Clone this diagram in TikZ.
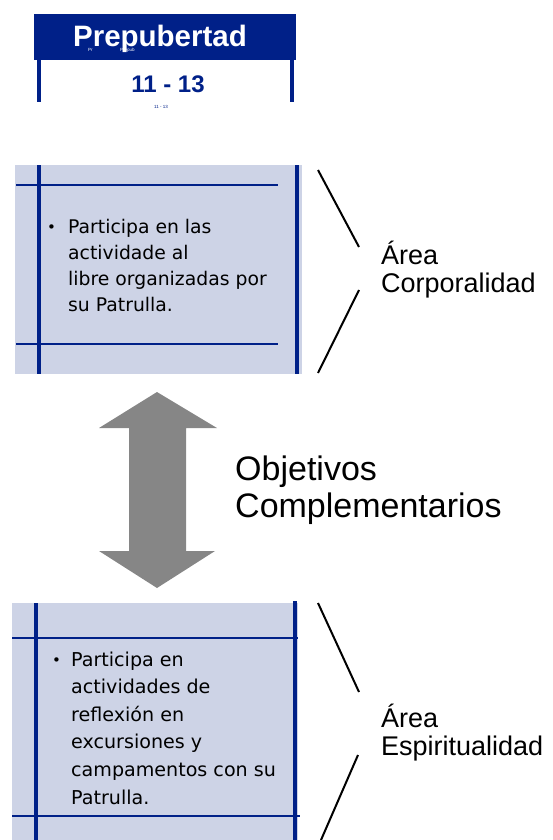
\documentclass[tikz,border=0pt]{standalone}
\usepackage{fontspec}
\setmainfont{DejaVu Sans}
\newfontfamily\arialfont{Liberation Sans}
\usetikzlibrary{positioning}
\definecolor{navy}{RGB}{0,32,136}
\definecolor{lavender}{RGB}{205,211,230}
\definecolor{arrowgray}{RGB}{134,134,134}

\begin{document}
\begin{tikzpicture}[x=1pt,y=-1pt,
  bar/.style={navy,line width=4pt},
  rule/.style={navy,line width=2pt},
  brace/.style={black,line width=2pt},
  tiny/.style={anchor=base west,inner sep=0pt,font=\arialfont\fontsize{4.5}{5}\selectfont},
  item/.style={anchor=base west,align=left,inner sep=0pt},
  area/.style={anchor=base west,align=left,inner sep=0pt,font=\arialfont\fontsize{27}{28}\selectfont}]
 \useasboundingbox (0,0) rectangle (552,840);
 % header
 \fill[navy] (34,14) rectangle (296,60);
 \draw[bar] (39,60) -- (39,102);
 \draw[bar] (292,60) -- (292,102);
 \node[anchor=base,inner sep=0pt,white,font=\arialfont\bfseries\fontsize{29.5}{30}\selectfont]
   (title) at (160,47) {Prepubertad};
 \node[tiny,white] (pr) at (88,52) {Pr};
 \node[tiny,white] (prepub) at (120,52) {Prepub};
 \node[anchor=base,inner sep=0pt,navy,font=\arialfont\bfseries\fontsize{24}{24}\selectfont]
   (age) at (168,93) {11 - 13};
 \node[tiny,anchor=base,navy] (agesmall) at (161,109) {11 - 13};

 % box one (base = last line)
 \fill[lavender] (15,165) rectangle (302,374);
 \draw[bar] (39,165) -- (39,374);
 \draw[bar] (297,165) -- (297,374);
 \draw[rule] (16,185) -- (278,185);
 \draw[rule] (16,344) -- (278,344);
 \node[item,font=\fontsize{15}{15}\selectfont] (dotone) at (47,232) {\textbullet};
 \node[item,font=\fontsize{18.8}{26}\selectfont] (itemone) at (68,311)
   {Participa en las\\actividade al\\libre organizadas por\\su Patrulla.};
 \coordinate (c1) at (318,170);
 \coordinate (c2) at (359,247);
 \coordinate (c3) at (359,290);
 \coordinate (c4) at (318,373);
 \draw[brace] (c1) -- (c2);
 \draw[brace] (c3) -- (c4);
 \node[area] (corpo) at (381,292) {Área\\Corporalidad};

 % arrow
 \fill[arrowgray] (157,392) -- (217,428) -- (186,428) -- (186,551) -- (215,551)
   -- (157,588) -- (99,551) -- (129,551) -- (129,428) -- (99,428) -- cycle;
 \node[item,font=\arialfont\fontsize{34}{37}\selectfont] (objetivos) at (235,517)
   {Objetivos\\Complementarios};

 % box two
 \fill[lavender] (12,603) rectangle (298,840);
 \draw[bar] (36,603) -- (36,840);
 \draw[bar] (295,601) -- (295,840);
 \draw[rule] (12,638) -- (298,638);
 \draw[rule] (12,816) -- (300,816);
 \node[item,font=\fontsize{15}{15}\selectfont] (dottwo) at (52,665) {\textbullet};
 \node[item,font=\fontsize{19.1}{27.6}\selectfont] (itemtwo) at (71,804)
   {Participa en\\actividades de\\reflexión en\\excursiones y\\campamentos con su\\Patrulla.};
 \coordinate (d1) at (318,603);
 \coordinate (d2) at (359,692);
 \coordinate (d3) at (358,755);
 \coordinate (d4) at (321,840);
 \draw[brace] (d1) -- (d2);
 \draw[brace] (d3) -- (d4);
 \node[area] (espi) at (381,755) {Área\\Espiritualidad};
\end{tikzpicture}
\end{document}
